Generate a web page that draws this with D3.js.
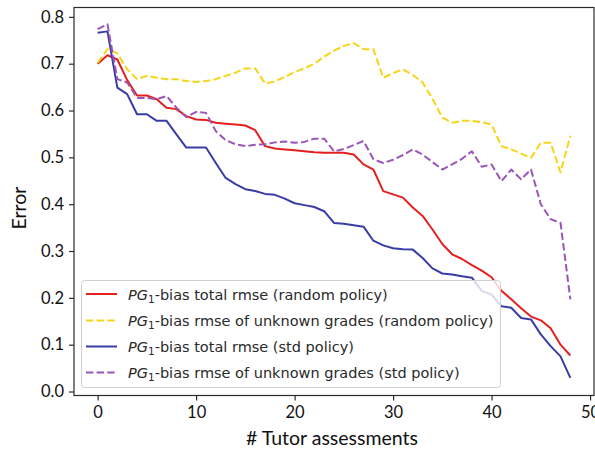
<!DOCTYPE html>
<html>
<head>
<meta charset="utf-8">
<script src="https://cdn.jsdelivr.net/npm/d3@7"></script>
<style>
  html, body { margin: 0; padding: 0; background: #fff; }
  svg { display: block; }
  .tick text { font-family: Lato, "Open Sans", sans-serif; font-size: 16.5px; fill: #111; }
  .axis-label { font-family: Lato, "Open Sans", sans-serif; font-size: 19.5px; fill: #111; }
  .legend text { font-family: "DejaVu Sans", sans-serif; font-size: 14.5px; fill: #2a2a2a; }
</style>
</head>
<body>
<svg id="chart" width="595" height="452"></svg>
<script>
// Number of tutor assessments (0..48)
const steps = d3.range(0, 49);

// PG1-bias total rmse, random policy
const randomTotal = [0.700, 0.718, 0.709, 0.665, 0.632, 0.632, 0.624, 0.606, 0.603, 0.588,
  0.581, 0.580, 0.574, 0.572, 0.570, 0.568, 0.558, 0.524, 0.519, 0.517,
  0.515, 0.513, 0.511, 0.510, 0.510, 0.510, 0.506, 0.485, 0.474, 0.428,
  0.421, 0.414, 0.393, 0.375, 0.346, 0.315, 0.293, 0.283, 0.270, 0.258,
  0.244, 0.215, 0.197, 0.178, 0.160, 0.152, 0.135, 0.100, 0.077];

// PG1-bias rmse of unknown grades, random policy
const randomUnknown = [0.702, 0.731, 0.722, 0.688, 0.667, 0.674, 0.670, 0.667, 0.667, 0.663,
  0.661, 0.663, 0.667, 0.674, 0.681, 0.690, 0.690, 0.658, 0.662, 0.672,
  0.682, 0.690, 0.700, 0.715, 0.728, 0.738, 0.744, 0.731, 0.731, 0.670,
  0.680, 0.688, 0.676, 0.660, 0.625, 0.585, 0.574, 0.578, 0.578, 0.575,
  0.570, 0.524, 0.517, 0.508, 0.499, 0.531, 0.531, 0.468, 0.546];

// PG1-bias total rmse, std policy
const stdTotal = [0.766, 0.769, 0.649, 0.635, 0.592, 0.592, 0.578, 0.578, 0.549, 0.521,
  0.521, 0.521, 0.488, 0.456, 0.443, 0.432, 0.428, 0.422, 0.420, 0.412,
  0.402, 0.398, 0.394, 0.385, 0.360, 0.358, 0.355, 0.352, 0.322, 0.312,
  0.306, 0.304, 0.303, 0.285, 0.263, 0.252, 0.250, 0.246, 0.243, 0.215,
  0.207, 0.182, 0.179, 0.157, 0.154, 0.122, 0.097, 0.075, 0.029];

// PG1-bias rmse of unknown grades, std policy
const stdUnknown = [0.774, 0.784, 0.667, 0.660, 0.627, 0.627, 0.624, 0.631, 0.606, 0.586,
  0.597, 0.595, 0.556, 0.537, 0.528, 0.524, 0.527, 0.528, 0.532, 0.534,
  0.531, 0.533, 0.540, 0.540, 0.513, 0.518, 0.526, 0.535, 0.496, 0.488,
  0.495, 0.505, 0.517, 0.506, 0.490, 0.474, 0.485, 0.497, 0.513, 0.480,
  0.485, 0.449, 0.474, 0.453, 0.474, 0.400, 0.368, 0.360, 0.197];

const xTicks = [0, 10, 20, 30, 40, 50];
const yTicks = [0.0, 0.1, 0.2, 0.3, 0.4, 0.5, 0.6, 0.7, 0.8];

const seriesNames = [
  "-bias total rmse (random policy)",
  "-bias rmse of unknown grades (random policy)",
  "-bias total rmse (std policy)",
  "-bias rmse of unknown grades (std policy)"
];
const seriesColors = ["#e3201f", "#f7d417", "#3a3ca6", "#9a55b8"];
const seriesDashed = [false, true, false, true];
const seriesValues = [randomTotal, randomUnknown, stdTotal, stdUnknown];

const svg = d3.select("#chart");
const m = { left: 74, right: 594, top: 7.5, bottom: 395.5 };

const x = d3.scaleLinear().domain([-2.4, 50.4]).range([m.left, m.right]);
const y = d3.scaleLinear().domain([-0.0085, 0.82]).range([m.bottom, m.top]);

// Data lines
const line = d3.line().x((d, i) => x(steps[i])).y(d => y(d));
const plot = svg.append("g");
seriesValues.forEach((vals, k) => {
  plot.append("path")
    .datum(vals)
    .attr("d", line)
    .attr("fill", "none")
    .attr("stroke", seriesColors[k])
    .attr("stroke-width", 2)
    .attr("stroke-linejoin", "round")
    .attr("stroke-dasharray", seriesDashed[k] ? "7.4,3.2" : null);
});

// Frame
svg.append("rect")
  .attr("x", m.left).attr("y", m.top)
  .attr("width", m.right - m.left).attr("height", m.bottom - m.top)
  .attr("fill", "none").attr("stroke", "#2b2b2b").attr("stroke-width", 1.2);

// Axes
const xAxis = d3.axisBottom(x).tickValues(xTicks).tickSize(5).tickPadding(6)
  .tickFormat(d3.format("d"));
const gx = svg.append("g").attr("transform", `translate(0,${m.bottom})`).call(xAxis);
gx.select(".domain").remove();
gx.selectAll(".tick line").attr("stroke", "#2b2b2b").attr("stroke-width", 1.2);

const yAxis = d3.axisLeft(y).tickValues(yTicks).tickSize(5).tickPadding(5)
  .tickFormat(d3.format(".1f"));
const gy = svg.append("g").attr("transform", `translate(${m.left},0)`).call(yAxis);
gy.select(".domain").remove();
gy.selectAll(".tick line").attr("stroke", "#2b2b2b").attr("stroke-width", 1.2);

// Axis labels
svg.append("text").attr("class", "axis-label")
  .attr("x", 332).attr("y", 445).attr("text-anchor", "middle")
  .text("# Tutor assessments");
svg.append("text").attr("class", "axis-label")
  .attr("transform", "translate(26,208) rotate(-90)")
  .attr("text-anchor", "middle")
  .text("Error");

// Legend
const lg = svg.append("g").attr("class", "legend");
lg.append("rect")
  .attr("x", 81.5).attr("y", 280.5).attr("width", 419).attr("height", 107)
  .attr("rx", 3).attr("ry", 3)
  .attr("fill", "rgba(255,255,255,0.8)")
  .attr("stroke", "#d0d0d0").attr("stroke-width", 1);

const rowY = [294, 320.5, 346.5, 372.5];
seriesNames.forEach((name, k) => {
  lg.append("line")
    .attr("x1", 86).attr("x2", 117)
    .attr("y1", rowY[k]).attr("y2", rowY[k])
    .attr("stroke", seriesColors[k]).attr("stroke-width", 2)
    .attr("stroke-dasharray", seriesDashed[k] ? "7.4,3.2" : null);
  const t = lg.append("text").attr("x", 128).attr("y", rowY[k] + 5.5);
  t.append("tspan").attr("font-style", "italic").text("PG");
  t.append("tspan").attr("font-size", "10.5px").attr("dy", 3).text("1");
  t.append("tspan").attr("dy", -3).text(name);
});
</script>
</body>
</html>
